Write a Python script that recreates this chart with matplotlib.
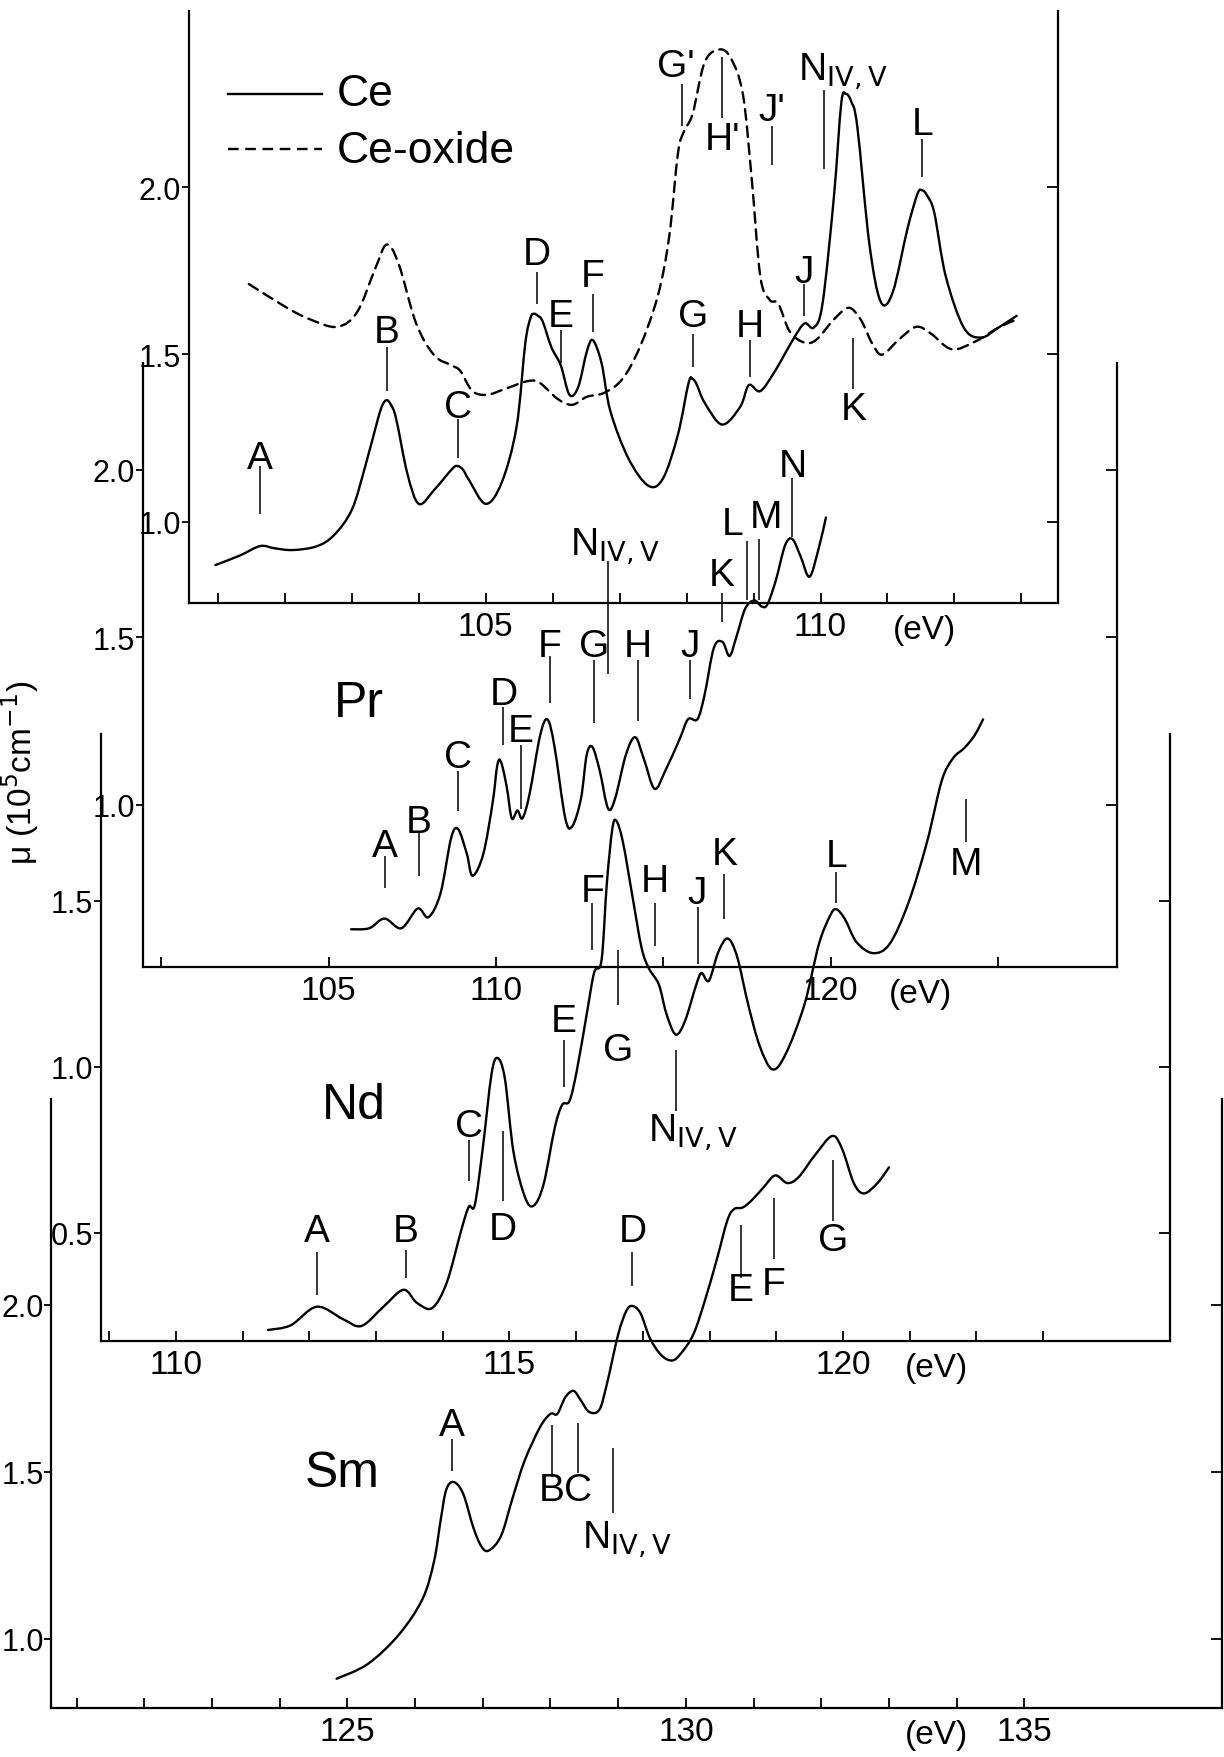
import matplotlib.pyplot as plt
import matplotlib.transforms as mtransforms
from matplotlib.path import Path
from matplotlib.patches import PathPatch

plt.rcParams["font.family"] = ["Liberation Sans Narrow", "Liberation Sans", "DejaVu Sans"]
plt.rcParams["mathtext.fontset"] = "dejavusans"

FIG_W, FIG_H, DPI = 1224, 1758, 100
NIV = r"N$_{\mathrm{IV,V}}$"
DASH = (0, (4.5, 2.8))

# ---- Ce metal (solid) and Ce-oxide (dashed) ----
ce_ev = [100.96, 101.33, 101.63, 101.85, 102.12, 102.47, 102.73, 103.0, 103.2, 103.39,
         103.46, 103.52, 103.58, 103.66, 103.83, 104.0, 104.23, 104.5, 104.58, 104.66,
         104.75, 105.0, 105.24, 105.46, 105.59, 105.67, 105.72, 105.78, 105.85, 105.98,
         106.12, 106.25, 106.38, 106.51, 106.6, 106.73, 106.86, 107.13, 107.43, 107.65,
         107.87, 108.03, 108.09, 108.15, 108.27, 108.53, 108.8, 108.93, 109.1, 109.32,
         109.59, 109.76, 109.9, 110.03, 110.2, 110.31, 110.38, 110.46, 110.55, 110.73,
         110.9, 111.08, 111.3, 111.45, 111.52, 111.59, 111.7, 111.87, 112.14, 112.4,
         112.66, 112.93]
ce_mu = [0.870, 0.899, 0.927, 0.920, 0.915, 0.926, 0.959, 1.036, 1.166, 1.308,
         1.350, 1.363, 1.350, 1.308, 1.142, 1.053, 1.095, 1.158, 1.166, 1.155,
         1.124, 1.053, 1.118, 1.284, 1.533, 1.610, 1.621, 1.615, 1.598, 1.521,
         1.467, 1.379, 1.402, 1.509, 1.542, 1.473, 1.331, 1.189, 1.107, 1.130,
         1.260, 1.415, 1.426, 1.410, 1.355, 1.290, 1.343, 1.408, 1.39, 1.45,
         1.544, 1.592, 1.58, 1.651, 1.97, 2.250, 2.278, 2.255, 2.18, 1.83,
         1.657, 1.686, 1.876, 1.980, 1.99, 1.975, 1.923, 1.734, 1.58, 1.55,
         1.58, 1.615]

ceox_ev = [101.46, 102.03, 102.38, 102.78, 103.08, 103.35, 103.52, 103.7, 103.96, 104.23,
           104.49, 104.62, 104.8, 105.02, 105.28, 105.63, 105.81, 106.07, 106.29, 106.51,
           106.77, 107.04, 107.3, 107.57, 107.74, 107.87, 107.96, 108.09, 108.27, 108.49,
           108.66, 108.84, 108.97, 109.1, 109.24, 109.37, 109.54, 109.76, 109.94, 110.2,
           110.42, 110.6, 110.77, 110.92, 111.17, 111.43, 111.65, 111.96, 112.31, 112.66,
           112.93]
ceox_mu = [1.71, 1.639, 1.604, 1.582, 1.627, 1.757, 1.828, 1.769, 1.592, 1.497,
           1.467, 1.45, 1.39, 1.379, 1.396, 1.42, 1.414, 1.367, 1.349, 1.373,
           1.385, 1.426, 1.521, 1.675, 1.852, 2.10, 2.166, 2.219, 2.373, 2.411,
           2.385, 2.278, 2.03, 1.734, 1.663, 1.651, 1.568, 1.535, 1.544, 1.604,
           1.639, 1.604, 1.533, 1.499, 1.544, 1.582, 1.562, 1.515, 1.538, 1.58,
           1.604]

# ---- Pr ----
pr_ev = [105.67, 106.21, 106.67, 107.17, 107.66, 107.98, 108.34, 108.66, 108.87, 109.13,
         109.30, 109.62, 109.9, 110.04, 110.15, 110.32, 110.47, 110.64, 110.79, 111.0,
         111.32, 111.54, 111.75, 112.07, 112.28, 112.54, 112.71, 112.88, 113.1, 113.35,
         113.56, 113.88, 114.16, 114.42, 114.74, 115.06, 115.49, 115.74, 116.02, 116.23,
         116.51, 116.77, 116.98, 117.19, 117.45, 117.72, 117.94, 118.11, 118.36, 118.64,
         118.86, 119.11, 119.37, 119.64, 119.86]
pr_mu = [0.627, 0.630, 0.659, 0.630, 0.689, 0.663, 0.734, 0.900, 0.926, 0.852,
         0.787, 0.852, 1.006, 1.118, 1.127, 1.053, 0.959, 0.982, 0.959, 1.030,
         1.207, 1.254, 1.172, 0.959, 0.935, 1.018, 1.148, 1.172, 1.101, 0.988,
         1.018, 1.148, 1.201, 1.136, 1.047, 1.101, 1.196, 1.255, 1.255, 1.326,
         1.468, 1.486, 1.444, 1.503, 1.586, 1.610, 1.592, 1.598, 1.669, 1.775,
         1.793, 1.740, 1.681, 1.764, 1.858]

# ---- Nd ----
nd_ev = [111.38, 111.72, 112.11, 112.5, 112.78, 113.11, 113.41, 113.61, 113.84, 114.06,
         114.28, 114.39, 114.48, 114.6, 114.73, 114.82, 114.93, 115.06, 115.23, 115.36,
         115.51, 115.68, 115.79, 115.9, 116.01, 116.16, 116.27, 116.38, 116.46, 116.54,
         116.6, 116.7, 116.85, 116.98, 117.09, 117.24, 117.35, 117.49, 117.63, 117.8,
         117.88, 117.99, 118.13, 118.27, 118.41, 118.58, 118.75, 118.94, 119.14, 119.42,
         119.64, 119.81, 119.9, 120.03, 120.2, 120.45, 120.7, 120.98, 121.26, 121.48,
         121.65, 121.82, 121.97, 122.1]
nd_mu = [0.208, 0.222, 0.278, 0.241, 0.22, 0.278, 0.329, 0.29, 0.274, 0.351,
         0.511, 0.579, 0.585, 0.757, 0.978, 1.027, 0.966, 0.744, 0.609, 0.582,
         0.646, 0.818, 0.886, 0.898, 0.990, 1.162, 1.285, 1.322, 1.555, 1.715,
         1.742, 1.678, 1.506, 1.359, 1.297, 1.248, 1.162, 1.098, 1.138, 1.248,
         1.283, 1.26, 1.346, 1.387, 1.334, 1.187, 1.064, 0.993, 1.039, 1.187,
         1.371, 1.457, 1.475, 1.445, 1.377, 1.343, 1.371, 1.494, 1.678, 1.862,
         1.930, 1.961, 1.998, 2.047]

# ---- Sm ----
sm_ev = [124.84, 125.3, 125.76, 126.11, 126.28, 126.38, 126.46, 126.57, 126.71, 126.86,
         126.98, 127.09, 127.27, 127.44, 127.62, 127.85, 128.0, 128.1, 128.22, 128.34,
         128.45, 128.57, 128.72, 128.83, 129.0, 129.12, 129.21, 129.33, 129.47, 129.64,
         129.8, 129.93, 130.11, 130.28, 130.46, 130.61, 130.71, 130.84, 130.98, 131.15,
         131.32, 131.5, 131.67, 131.9, 132.16, 132.31, 132.48, 132.63, 132.83, 133.0]
sm_mu = [0.881, 0.925, 1.013, 1.12, 1.233, 1.359, 1.447, 1.47, 1.435, 1.334,
         1.277, 1.265, 1.309, 1.422, 1.535, 1.636, 1.674, 1.674, 1.724, 1.743,
         1.714, 1.680, 1.686, 1.761, 1.912, 1.982, 1.997, 1.975, 1.9, 1.849,
         1.834, 1.856, 1.912, 2.013, 2.139, 2.252, 2.287, 2.292, 2.315, 2.353,
         2.388, 2.365, 2.384, 2.447, 2.506, 2.466, 2.365, 2.334, 2.365, 2.412]

# peak labels: (text, text_x, text_y, line_x, line_top, line_bottom)
ce_labels = [("A", 101.63, 1.189, 101.63, 1.166, 1.024),
             ("B", 103.52, 1.568, 103.52, 1.521, 1.391),
             ("C", 104.58, 1.343, 104.58, 1.308, 1.189),
             ("D", 105.76, 1.799, 105.76, 1.746, 1.651),
             ("E", 106.12, 1.615, 106.12, 1.574, 1.473),
             ("F", 106.60, 1.734, 106.60, 1.680, 1.568),
             ("G", 108.09, 1.615, 108.09, 1.562, 1.462),
             ("H", 108.95, 1.586, 108.95, 1.544, 1.432),
             ("J", 109.75, 1.746, 109.75, 1.710, 1.615),
             ("K", 110.49, 1.337, 110.49, 1.550, 1.396),
             ("L", 111.52, 2.189, 111.52, 2.142, 2.030),
             (NIV, 110.33, 2.349, 110.05, 2.290, 2.053),
             ("G'", 107.84, 2.361, 107.93, 2.308, 2.183),
             ("H'", 108.53, 2.142, 108.53, 2.390, 2.207),
             ("J'", 109.28, 2.231, 109.28, 2.183, 2.065)]
pr_labels = [("A", 106.67, 0.876, 106.67, 0.847, 0.751),
             ("B", 107.70, 0.947, 107.70, 0.917, 0.787),
             ("C", 108.87, 1.142, 108.87, 1.101, 0.982),
             ("D", 110.22, 1.331, 110.22, 1.290, 1.178),
             ("E", 110.75, 1.219, 110.75, 1.178, 0.988),
             ("F", 111.60, 1.474, 111.60, 1.444, 1.302),
             ("G", 112.92, 1.474, 112.92, 1.432, 1.243),
             (NIV, 113.56, 1.775, 113.35, 1.728, 1.391),
             ("H", 114.25, 1.474, 114.25, 1.432, 1.249),
             ("J", 115.80, 1.474, 115.80, 1.432, 1.314),
             ("K", 116.76, 1.687, 116.76, 1.633, 1.545),
             ("L", 117.08, 1.840, 117.51, 1.787, 1.610),
             ("M", 118.08, 1.858, 117.87, 1.793, 1.610),
             ("N", 118.86, 2.012, 118.86, 1.976, 1.800)]
nd_labels = [("A", 112.11, 0.505, 112.11, 0.444, 0.314),
             ("B", 113.45, 0.505, 113.45, 0.450, 0.364),
             ("C", 114.39, 0.822, 114.39, 0.781, 0.658),
             ("D", 114.90, 0.511, 114.90, 0.806, 0.597),
             ("E", 115.81, 1.138, 115.81, 1.082, 0.941),
             ("F", 116.24, 1.531, 116.24, 1.494, 1.352),
             ("G", 116.63, 1.052, 116.63, 1.352, 1.187),
             ("H", 117.18, 1.561, 117.18, 1.494, 1.365),
             ("J", 117.82, 1.525, 117.82, 1.482, 1.310),
             ("K", 118.22, 1.641, 118.22, 1.580, 1.445),
             ("L", 119.90, 1.635, 119.90, 1.586, 1.494),
             ("M", 121.85, 1.610, 121.85, 1.807, 1.678),
             (NIV, 117.74, 0.806, 117.49, 1.052, 0.867)]
sm_labels = [("A", 126.55, 1.642, 126.55, 1.598, 1.504),
             ("B", 128.02, 1.447, 128.02, 1.642, 1.485),
             ("C", 128.40, 1.447, 128.40, 1.648, 1.497),
             (NIV, 129.12, 1.302, 128.93, 1.573, 1.378),
             ("D", 129.21, 2.221, 129.21, 2.158, 2.057),
             ("E", 130.81, 2.045, 130.81, 2.240, 2.082),
             ("F", 131.30, 2.064, 131.30, 2.321, 2.139),
             ("G", 132.17, 2.196, 132.17, 2.434, 2.252)]

ce_xticks = list(range(101, 114))
pr_xticks = list(range(100, 126, 5))
nd_xticks = list(range(109, 124))
sm_xticks = list(range(121, 136))


def add_panel(fig, box, xref, yref, xticks, xlabeled, yticks, ev_x):
    left, right, top, bottom = box
    ax = fig.add_axes([left / FIG_W, 1 - bottom / FIG_H,
                       (right - left) / FIG_W, (bottom - top) / FIG_H])
    (xv1, xp1), (xv2, xp2) = xref
    sx = (xv2 - xv1) / (xp2 - xp1)
    ax.set_xlim(xv1 + (left - xp1) * sx, xv1 + (right - xp1) * sx)
    (yv1, yp1), (yv2, yp2) = yref
    sy = (yv2 - yv1) / (yp2 - yp1)
    ax.set_ylim(yv1 + (bottom - yp1) * sy, yv1 + (top - yp1) * sy)
    ax.patch.set_visible(False)
    ax.spines[["top", "right"]].set_visible(False)
    for s in ("left", "bottom"):
        ax.spines[s].set_linewidth(1.6)

    ax.set_xticks(xticks)
    ax.set_xticklabels([str(v) if v in xlabeled else "" for v in xticks])
    ax.tick_params(axis="x", direction="in", length=7, width=1.3, pad=6, labelsize=24)
    ax.set_yticks(yticks)
    ax.set_yticklabels([f"{v:.1f}" for v in yticks])
    ax.tick_params(axis="y", direction="out", length=5, width=1.3, pad=0.5, labelsize=22)

    sec = ax.secondary_yaxis("right")
    sec.set_yticks(yticks)
    sec.set_yticklabels([])
    sec.tick_params(direction="in", length=8, width=1.3)
    sec.spines["right"].set_linewidth(1.6)

    ev_trans = mtransforms.offset_copy(ax.get_xaxis_transform(), y=-27, units="dots")
    ax.text(ev_x, 0, "(eV)", transform=ev_trans, ha="center", va="center", fontsize=24)
    return ax


def curve(ax, xs, ys, **kw):
    # smooth (Catmull-Rom style) rendering of the read points
    pts = list(zip(xs, ys))
    n = len(pts)
    verts, codes = [pts[0]], [Path.MOVETO]
    for i in range(n - 1):
        p0 = pts[max(i - 1, 0)]
        p1, p2 = pts[i], pts[i + 1]
        p3 = pts[min(i + 2, n - 1)]
        c1 = (p1[0] + (p2[0] - p0[0]) / 6, p1[1] + (p2[1] - p0[1]) / 6)
        c2 = (p2[0] - (p3[0] - p1[0]) / 6, p2[1] - (p3[1] - p1[1]) / 6)
        verts += [c1, c2, p2]
        codes += [Path.CURVE4] * 3
    patch = PathPatch(Path(verts, codes), fill=False, edgecolor="black",
                      linewidth=1.7, clip_on=False, capstyle="round", **kw)
    ax.add_patch(patch)


def draw_labels(ax, labels):
    for name, tx, ty, lx, l_top, l_bot in labels:
        ax.vlines(lx, l_bot, l_top, color="black", linewidth=1.1, clip_on=False)
        ax.text(tx, ty, name, ha="center", va="center", fontsize=28, clip_on=False)


def main() -> None:
    fig = plt.figure(figsize=(FIG_W / DPI, FIG_H / DPI), dpi=DPI)
    line_kw = dict(color="black", linewidth=1.7, clip_on=False)

    ax_ce = add_panel(fig, (188.7, 1058, 12, 604), ((105, 485.8), (110, 820.5)),
                      ((2.0, 188.0), (1.0, 522.6)), ce_xticks, (105, 110),
                      [1.0, 1.5, 2.0], 111.55)
    curve(ax_ce, ce_ev, ce_mu)
    curve(ax_ce, ceox_ev, ceox_mu, linestyle=DASH)
    draw_labels(ax_ce, ce_labels)
    ax_ce.plot([101.15, 102.56], [2.278, 2.278], **line_kw)
    ax_ce.plot([101.15, 102.56], [2.115, 2.115], linestyle=DASH, **line_kw)
    ax_ce.text(102.78, 2.278, "Ce", ha="left", va="center", fontsize=32)
    ax_ce.text(102.78, 2.110, "Ce-oxide", ha="left", va="center", fontsize=32)

    ax_pr = add_panel(fig, (142.8, 1117, 364, 968), ((105, 328.7), (120, 830.6)),
                      ((2.0, 471.0), (1.0, 805.5)), pr_xticks, (105, 110, 120),
                      [1.0, 1.5, 2.0], 122.7)
    curve(ax_pr, pr_ev, pr_mu)
    draw_labels(ax_pr, pr_labels)
    ax_pr.text(105.89, 1.302, "Pr", ha="center", va="center", fontsize=36)

    ax_nd = add_panel(fig, (100.6, 1170, 735, 1342), ((115, 509.5), (120, 843.0)),
                      ((1.5, 902.0), (0.5, 1234.0)), nd_xticks, (110, 115, 120),
                      [0.5, 1.0, 1.5], 121.4)
    curve(ax_nd, nd_ev, nd_mu)
    draw_labels(ax_nd, nd_labels)
    ax_nd.text(112.67, 0.886, "Nd", ha="center", va="center", fontsize=36)

    ax_sm = add_panel(fig, (51.4, 1222, 1100, 1709), ((125, 347.4), (135, 1024.4)),
                      ((2.0, 1306.0), (1.0, 1640.0)), sm_xticks, (125, 130, 135),
                      [1.0, 1.5, 2.0], 133.7)
    curve(ax_sm, sm_ev, sm_mu)
    draw_labels(ax_sm, sm_labels)
    ax_sm.text(124.92, 1.497, "Sm", ha="center", va="center", fontsize=36)

    fig.text(20 / FIG_W, 1 - 773 / FIG_H, "μ (10$^5$cm$^{-1}$)", rotation=90,
             ha="center", va="center", fontsize=24)

    fig.savefig("out.png", dpi=DPI)


if __name__ == "__main__":
    main()
